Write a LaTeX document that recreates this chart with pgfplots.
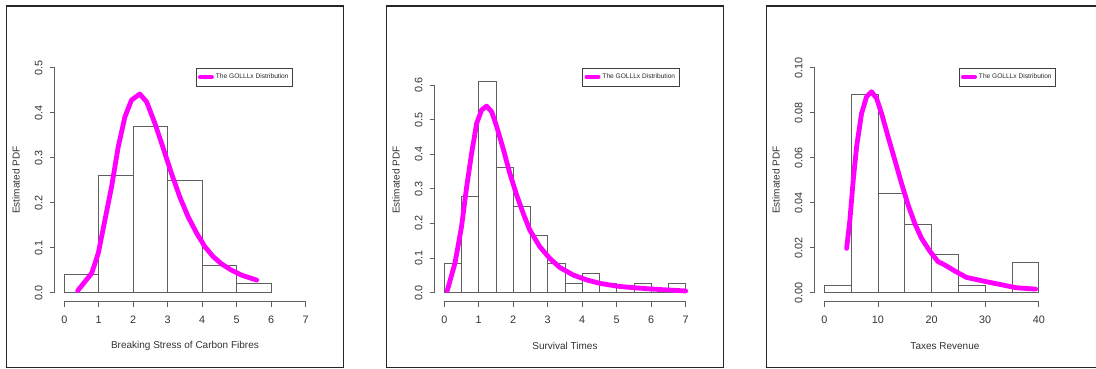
\documentclass[border=0pt]{standalone}
\usepackage{fontspec}
\setmainfont{Liberation Sans}
\usepackage{pgfplots}
\pgfplotsset{compat=1.18}

\definecolor{curve}{RGB}{255,0,255}
\definecolor{axgray}{RGB}{95,95,95}
\definecolor{txt}{RGB}{50,50,50}

\pgfplotsset{
  rplot/.style={
    scale only axis, width=260.7pt, height=243pt,
    axis lines=left, axis line style={draw=none,-},
    tick align=outside, major tick length=5pt,
    tick style={axgray, line width=0.8pt},
    ticklabel style={font=\fontsize{10.8}{12}\selectfont, text=txt},
    xticklabel style={yshift=-6pt},
    yticklabel style={xshift=-3.5pt, rotate=90, anchor=south},
    every axis x label/.style={at={(axis description cs:0.5,0)}, anchor=center, yshift=-44.3pt, font=\fontsize{10}{12}\selectfont, text=txt},
    every axis y label/.style={at={(axis description cs:0,0.5)}, xshift=-38.6pt, anchor=center, rotate=90, font=\fontsize{10}{12}\selectfont, text=txt},
    ylabel={Estimated PDF},
    legend style={anchor=north west, font=\fontsize{6.6}{7.5}\selectfont, draw=black!75, line width=0.6pt, inner xsep=2pt, inner ysep=4pt, text=black!85},
    legend image code/.code={\draw[curve, line width=4pt, line cap=round] (1pt,0pt) -- (13pt,0pt);},
    clip=false,
  },
  hbar/.style={ybar interval, draw=axgray, line width=0.8pt, fill=none, forget plot},
  pdfcurve/.style={curve, line width=4.8pt, line cap=round, line join=round, mark=none},
}

\begin{document}
\begin{tikzpicture}
\useasboundingbox (0,0) rectangle (1096pt,369pt);
\draw[black!85, line width=1.2pt] (6.7pt,1.3pt) rectangle (343.3pt,363pt);
\draw[black!85, line width=1.2pt] (386.7pt,1.3pt) rectangle (723.3pt,363pt);
\draw[black!85, line width=1.2pt] (766.7pt,1.3pt) rectangle (1100pt,363pt);

% Panel 1
\begin{axis}[rplot, at={(54.6pt,67.3pt)}, anchor=south west,
  xmin=-0.28, xmax=7.28, ymin=-0.02, ymax=0.52,
  xtick={0,1,2,3,4,5,6,7}, xticklabels={0,1,2,3,4,5,6,7},
  ytick={0,0.1,0.2,0.3,0.4,0.5}, yticklabels={0.0,0.1,0.2,0.3,0.4,0.5},
  xlabel={Breaking Stress of Carbon Fibres},
  legend style={at={(axis cs:3.81,0.5)}}]
\draw[axgray, line width=0.8pt] (axis cs:0,-0.02) -- (axis cs:7,-0.02);
\draw[axgray, line width=0.8pt] (axis cs:-0.28,0) -- (axis cs:-0.28,0.5);
\addplot[hbar] coordinates {(0,0.04) (1,0.26) (2,0.37) (3,0.25) (4,0.06) (5,0.02) (6,0)};
\addplot[pdfcurve] coordinates {(0.388,0.0044) (0.794,0.043) (0.986,0.0876) (1.18,0.162) (1.374,0.236) (1.565,0.324) (1.76,0.391) (1.95,0.428) (2.19,0.4416) (2.39,0.424) (2.63,0.376) (2.87,0.321) (3.11,0.265) (3.35,0.213) (3.59,0.169) (3.84,0.132) (4.08,0.102) (4.32,0.080) (4.56,0.064) (4.85,0.050) (5.14,0.039) (5.58,0.028)};
\addlegendentry{The GOLLLx Distribution}
\end{axis}

% Panel 2
\begin{axis}[rplot, at={(434.6pt,67.3pt)}, anchor=south west,
  xmin=-0.28, xmax=7.28, ymin=-0.026, ymax=0.676,
  xtick={0,1,2,3,4,5,6,7}, xticklabels={0,1,2,3,4,5,6,7},
  ytick={0,0.1,0.2,0.3,0.4,0.5,0.6}, yticklabels={0.0,0.1,0.2,0.3,0.4,0.5,0.6},
  xlabel={Survival Times},
  legend style={at={(axis cs:4.0,0.65)}}]
\draw[axgray, line width=0.8pt] (axis cs:0,-0.026) -- (axis cs:7,-0.026);
\draw[axgray, line width=0.8pt] (axis cs:-0.28,0) -- (axis cs:-0.28,0.6);
\addplot[hbar] coordinates {(0,0.08333) (0.5,0.27778) (1,0.61111) (1.5,0.36111) (2,0.25) (2.5,0.16667) (3,0.08333) (3.5,0.02778) (4,0.05556) (4.5,0.02778) (5,0) (5.5,0.02778) (6,0) (6.5,0.02778) (7,0)};
\addplot[pdfcurve] coordinates {(0.087,0.006) (0.31,0.085) (0.50,0.19) (0.65,0.306) (0.794,0.403) (0.939,0.489) (1.084,0.528) (1.229,0.539) (1.374,0.523) (1.52,0.48) (1.72,0.412) (1.90,0.345) (2.10,0.282) (2.29,0.229) (2.48,0.181) (2.77,0.133) (3.06,0.099) (3.35,0.073) (3.74,0.051) (4.13,0.037) (4.51,0.027) (5.0,0.019) (5.48,0.0145) (5.96,0.011) (6.45,0.008) (7.0,0.005)};
\addlegendentry{The GOLLLx Distribution}
\end{axis}

% Panel 3
\begin{axis}[rplot, at={(814.6pt,67.3pt)}, anchor=south west,
  xmin=-1.8, xmax=46.8, ymin=-0.004, ymax=0.104,
  xtick={0,10,20,30,40}, xticklabels={0,10,20,30,40},
  ytick={0,0.02,0.04,0.06,0.08,0.10}, yticklabels={0.00,0.02,0.04,0.06,0.08,0.10},
  xlabel={Taxes Revenue},
  legend style={at={(axis cs:25.06,0.10)}}]
\draw[axgray, line width=0.8pt] (axis cs:0,-0.004) -- (axis cs:40,-0.004);
\draw[axgray, line width=0.8pt] (axis cs:-1.8,0) -- (axis cs:-1.8,0.10);
\addplot[hbar] coordinates {(0,0.00339) (5,0.08814) (10,0.04407) (15,0.03051) (20,0.01695) (25,0.00339) (30,0) (35,0.01356) (40,0)};
\addplot[pdfcurve] coordinates {(4.17,0.0197) (4.78,0.0323) (5.40,0.050) (6.03,0.0649) (6.96,0.0797) (7.89,0.0871) (8.82,0.0893) (9.75,0.0864) (10.68,0.0797) (11.9,0.0693) (13.15,0.059) (14.4,0.0486) (15.63,0.039) (16.87,0.0308) (18.12,0.0242) (19.67,0.0185) (21.2,0.0138) (22.1,0.0128) (24.6,0.0093) (26.5,0.0068) (29.6,0.0052) (32.7,0.0037) (35.8,0.0022) (39.4,0.0016)};
\addlegendentry{The GOLLLx Distribution}
\end{axis}
\end{tikzpicture}
\end{document}
